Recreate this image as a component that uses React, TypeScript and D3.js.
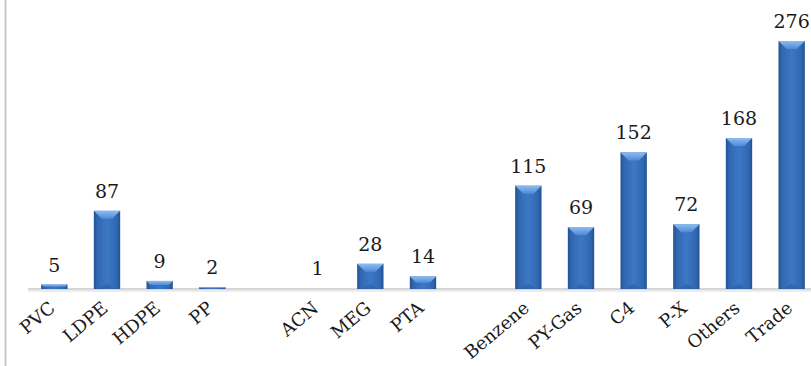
import React from "react";
import * as d3 from "d3";

const categories = ["PVC", "LDPE", "HDPE", "PP", "", "ACN", "MEG", "PTA", " ", "Benzene", "PY-Gas", "C4", "P-X", "Others", "Trade"];
const values: (number | null)[] = [5, 87, 9, 2, null, 1, 28, 14, null, 115, 69, 152, 72, 168, 276];

const W = 811;
const H = 366;
const baseY = 289;

export default function App() {
  const x = d3.scaleBand<string>().domain(categories).range([28, 818]).paddingInner(0.5).paddingOuter(0.25);
  const y = d3.scaleLinear().domain([0, 276]).range([baseY, 41]);
  const bw = x.bandwidth();
  const serif = "'DejaVu Serif', 'Liberation Serif', serif";

  return (
    <svg width={W} height={H} style={{ position: "absolute", left: 0, top: 0, display: "block", background: "#fff" }}>
      <defs>
        <linearGradient id="barG" x1="0" x2="1" y1="0" y2="0">
          <stop offset="0" stopColor="#21508f" />
          <stop offset="0.12" stopColor="#3066b0" />
          <stop offset="0.5" stopColor="#3d78c6" />
          <stop offset="0.88" stopColor="#3066b0" />
          <stop offset="1" stopColor="#21508f" />
        </linearGradient>
        <linearGradient id="topG" x1="0" x2="0" y1="0" y2="1">
          <stop offset="0" stopColor="#8cbdf2" />
          <stop offset="1" stopColor="#4f8ad6" />
        </linearGradient>
      </defs>
      {/* left axis line */}
      <line x1={5.5} x2={5.5} y1={0} y2={H} stroke="#c8c8c8" strokeWidth={2} />
      {/* baseline */}
      <line x1={28} x2={W} y1={baseY + 2} y2={baseY + 2} stroke="#ececec" strokeWidth={2} />
      <line x1={28} x2={W} y1={baseY} y2={baseY} stroke="#d6d6d6" strokeWidth={2} />
      {categories.map((c, i) => {
        const v = values[i];
        const x0 = x(c)!;
        const cx = x0 + bw / 2;
        const elems: React.ReactNode[] = [];
        if (v !== null) {
          const top = y(v);
          const h = baseY - top;
          const d = Math.min(8, h / 2);
          elems.push(
            <g key="bar">
              {h > 1 && <rect x={x0} y={top} width={bw} height={h} fill="url(#barG)" />}
              {h > 1.5 && (
                <polygon
                  points={`${x0},${top} ${x0 + bw},${top} ${x0 + bw - d},${top + d} ${x0 + d},${top + d}`}
                  fill="url(#topG)"
                />
              )}
              {h > 20 && (
                <polygon
                  points={`${x0 + 4},${baseY} ${x0 + bw - 4},${baseY} ${cx},${baseY - 5}`}
                  fill="#2b5ea3"
                  opacity={0.6}
                />
              )}
            </g>
          );
          elems.push(
            <text key="val" x={cx} y={top - 13} textAnchor="middle" fontFamily={serif} fontSize={19} fill="#1a1a1a">
              {v}
            </text>
          );
        }
        if (c.trim() !== "") {
          elems.push(
            <text
              key="lab"
              transform={`translate(${cx + 2},${baseY + 21}) rotate(-40)`}
              textAnchor="end"
              fontFamily={serif}
              fontSize={18}
              fill="#1a1a1a"
            >
              {c}
            </text>
          );
        }
        return <g key={i}>{elems}</g>;
      })}
    </svg>
  );
}
